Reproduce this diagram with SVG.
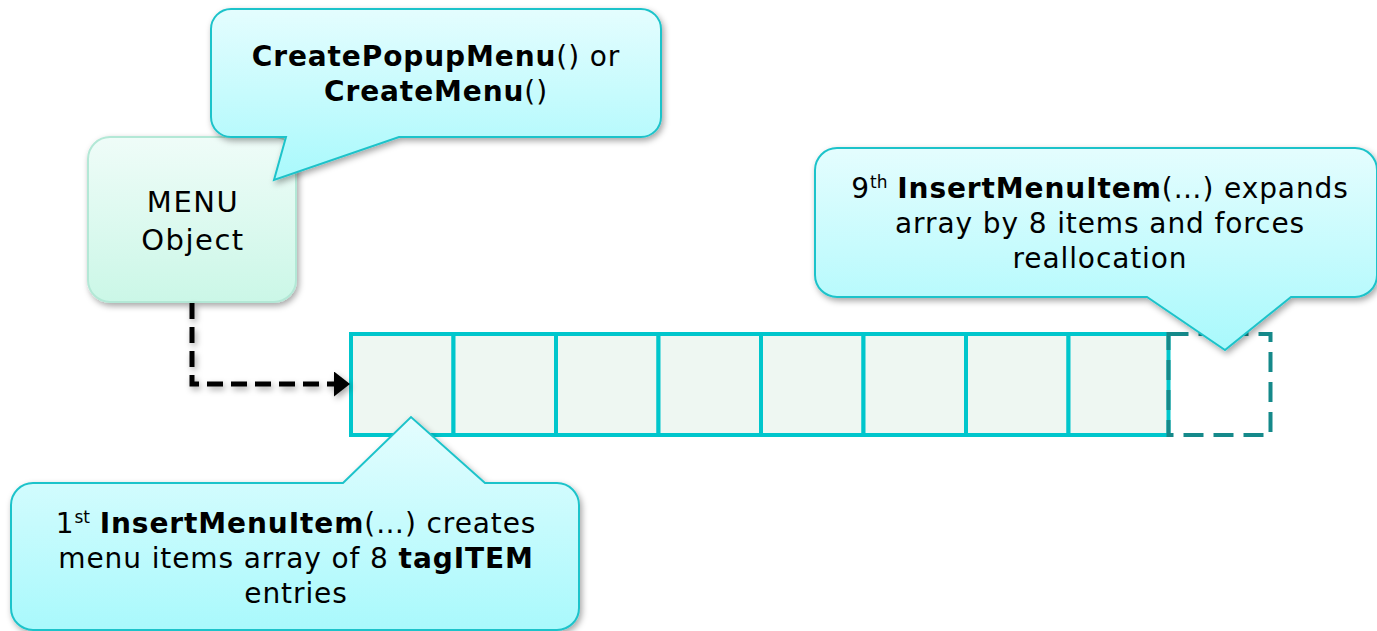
<svg xmlns="http://www.w3.org/2000/svg" width="1377" height="631" viewBox="0 0 1377 631">
<style>
  text { font-family: "DejaVu Sans", Verdana, sans-serif; fill: #000; }
  .t { font-size: 28px; letter-spacing: 0.9px; text-anchor: middle; }
  .b { font-weight: bold; }
  .sup { font-size: 17px; letter-spacing: 0; }
  .callout { fill: url(#cg); stroke: #1ec3ca; stroke-width: 2; filter: url(#sh); }
  .cell { fill: #eef7f2; stroke: #00c6cc; stroke-width: 4; }
</style>
<defs>
  <linearGradient id="cg" x1="0" y1="0" x2="0" y2="1">
    <stop offset="0" stop-color="#e4fdfe"/>
    <stop offset="1" stop-color="#a9f9fc"/>
  </linearGradient>
  <linearGradient id="mg" x1="0" y1="0" x2="0" y2="1">
    <stop offset="0" stop-color="#effcf8"/>
    <stop offset="1" stop-color="#cbf7e7"/>
  </linearGradient>
  <filter id="sh" x="-10%" y="-10%" width="125%" height="135%">
    <feDropShadow dx="2" dy="3" stdDeviation="3" flood-color="#000" flood-opacity="0.35"/>
  </filter>
  <marker id="ah" markerWidth="4" markerHeight="6" refX="3.2" refY="2.5" orient="auto" markerUnits="strokeWidth">
    <path d="M0,0 L3.2,2.5 L0,5 Z" fill="#000"/>
  </marker>
</defs>

<g id="menu-object">
  <rect x="88" y="137" width="208" height="165" rx="22" ry="22" fill="url(#mg)" stroke="#b3e8d6" stroke-width="2" filter="url(#sh)"/>
  <text x="193" y="212" font-size="29" letter-spacing="1.5" text-anchor="middle">MENU</text>
  <text x="193" y="250" font-size="29" letter-spacing="1.5" text-anchor="middle">Object</text>
</g>

<g id="callout-create">
  <path class="callout" d="M231,9 H641 A20,20 0 0 1 661,29 V117 A20,20 0 0 1 641,137 H399 L274,180 L286,137 H231 A20,20 0 0 1 211,117 V29 A20,20 0 0 1 231,9 Z"/>
  <text class="t" x="436" y="66"><tspan class="b">CreatePopupMenu</tspan>() or</text>
  <text class="t" x="436" y="101"><tspan class="b">CreateMenu</tspan>()</text>
</g>

<g id="array">
  <rect class="cell" x="351" y="334" width="102.5" height="101"/>
  <rect class="cell" x="453.5" y="334" width="102.5" height="101"/>
  <rect class="cell" x="556" y="334" width="102.5" height="101"/>
  <rect class="cell" x="658.5" y="334" width="102.5" height="101"/>
  <rect class="cell" x="761" y="334" width="102.5" height="101"/>
  <rect class="cell" x="863.5" y="334" width="102.5" height="101"/>
  <rect class="cell" x="966" y="334" width="102.5" height="101"/>
  <rect class="cell" x="1068.5" y="334" width="100" height="101"/>
</g>

<g id="new-cell">
  <rect x="1168.5" y="334" width="102" height="101" fill="none" stroke="#15898a" stroke-width="4" stroke-dasharray="20,10"/>
</g>

<g id="connectors">
  <path d="M192,303 V384 H350" fill="none" stroke="#000" stroke-width="5" stroke-dasharray="16,8" marker-end="url(#ah)" filter="url(#sh)"/>
</g>

<g id="callout-ninth">
  <path class="callout" d="M837,148 H1355 A22,22 0 0 1 1377,170 V275 A22,22 0 0 1 1355,297 H1291 L1225,350 L1147,297 H837 A22,22 0 0 1 815,275 V170 A22,22 0 0 1 837,148 Z"/>
  <text class="t" x="1100" y="198">9<tspan class="sup" dy="-10">th</tspan><tspan dy="10"> </tspan><tspan class="b">InsertMenuItem</tspan>(…) expands</text>
  <text class="t" x="1100" y="233">array by 8 items and forces</text>
  <text class="t" x="1100" y="268">reallocation</text>
</g>

<g id="callout-first">
  <path class="callout" d="M33,483 H343 L411,417 L485,483 H557 A22,22 0 0 1 579,505 V608 A22,22 0 0 1 557,630 H33 A22,22 0 0 1 11,608 V505 A22,22 0 0 1 33,483 Z"/>
  <text class="t" x="296" y="533">1<tspan class="sup" dy="-10">st</tspan><tspan dy="10"> </tspan><tspan class="b">InsertMenuItem</tspan>(…) creates</text>
  <text class="t" x="296" y="568">menu items array of 8 <tspan class="b">tagITEM</tspan></text>
  <text class="t" x="296" y="603">entries</text>
</g>
</svg>
